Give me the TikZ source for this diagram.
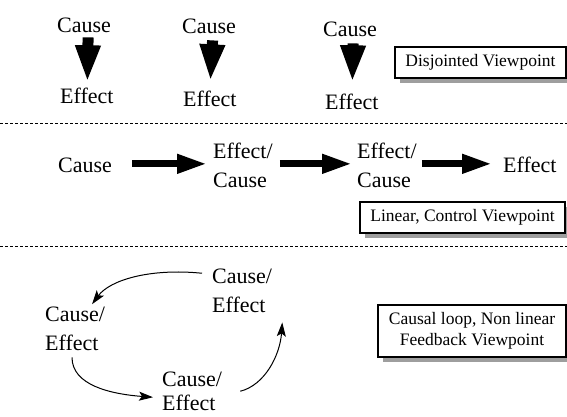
\documentclass[tikz,border=0pt]{standalone}
\usepackage{fontspec}
\setmainfont{Liberation Serif}
\usetikzlibrary{arrows.meta,shadows,calc}
\begin{document}
\begin{tikzpicture}[x=1pt,y=-1pt,
  lbl/.style={font=\fontsize{22}{29}\selectfont, inner sep=0pt, align=left, anchor=base west},
  fatdown/.style={line width=11pt,-{Triangle[length=37pt,width=23pt]}},
  fatright/.style={line width=7pt,-{Triangle[length=30pt,width=18pt]}},
  curv/.style={line width=1pt,-{Stealth[length=14pt,width=9pt,inset=3pt]}},
  sep/.style={line width=1pt,dash pattern=on 3pt off 2pt},
  vbox/.style={draw, line width=1.2pt, fill=white, font=\fontsize{17.5}{21}\selectfont,
    align=center, inner sep=0pt, drop shadow={shadow xshift=5pt, shadow yshift=-5pt, fill=black!38, opacity=1}}]
\useasboundingbox (0,0) rectangle (567,416);
% top row
\node[lbl] (c1) at (57,32) {Cause};
\node[lbl] (e1) at (60,103) {Effect};
\node[lbl] (c2) at (182,33) {Cause};
\node[lbl] (e2) at (183,106) {Effect};
\node[lbl] (c3) at (323,36) {Cause};
\node[lbl] (e3) at (325,109) {Effect};
\draw[fatdown] ([xshift=4pt,yshift=-5pt]c1.south) -- ([xshift=0.5pt,yshift=5pt]e1.north);
\draw[fatdown] ([xshift=3.5pt,yshift=-7pt]c2.south) -- ([xshift=0.5pt,yshift=9pt]e2.north);
\draw[fatdown] ([xshift=3pt,yshift=-7pt]c3.south) -- ([xshift=0.5pt,yshift=11pt]e3.north);
\node[vbox, minimum width=171pt, minimum height=31pt] (v1) at (480.5,62.5) {Disjointed Viewpoint};
\draw[sep] (0,123) -- (567,123);
% middle row
\node[lbl] (m1) at (58,172) {Cause};
\node[lbl] (m2) at (213,187) {Effect/\\Cause};
\node[lbl] (m3) at (357,187) {Effect/\\Cause};
\node[lbl] (m4) at (503,172) {Effect};
\draw[fatright] ([xshift=20pt,yshift=1pt]m1.east) -- ([xshift=-6pt,yshift=1pt]m1.east -| m2.west);
\draw[fatright] ([xshift=7pt,yshift=1pt]m1.east -| m2.east) -- ([xshift=-5pt,yshift=1pt]m1.east -| m3.west);
\draw[fatright] ([xshift=5pt,yshift=1pt]m1.east -| m3.east) -- ([xshift=-11pt,yshift=1pt]m1.east -| m4.west);
\node[vbox, minimum width=205pt, minimum height=31pt] (v2) at (462.5,217.5) {Linear, Control Viewpoint};
\draw[sep] (0,246) -- (567,246);
% bottom loop
\node[lbl] (b1) at (212,312) {Cause/\\Effect};
\node[lbl] (b2) at (45,350) {Cause/\\Effect};
\node[lbl, font=\fontsize{22}{24}\selectfont] (b3) at (162,410) {Cause/\\Effect};
\draw[curv] ([xshift=-10pt,yshift=-5pt]b1.north west) .. controls (150,268) and (110,280) .. ([xshift=47pt,yshift=2pt]b2.north west);
\draw[curv] ([xshift=27pt,yshift=-7pt]b2.south west) .. controls (72,385) and (110,394) .. ([xshift=-9pt,yshift=-26pt]b3.north west);
\draw[curv] ([xshift=18pt,yshift=-20pt]b3.north east) .. controls (265,385) and (280,355) .. ([xshift=10pt,yshift=-10pt]b1.south east);
\node[vbox, minimum width=188pt, minimum height=52pt] (v3) at (472,331) {Causal loop, Non linear\\Feedback Viewpoint};
\end{tikzpicture}
\end{document}
